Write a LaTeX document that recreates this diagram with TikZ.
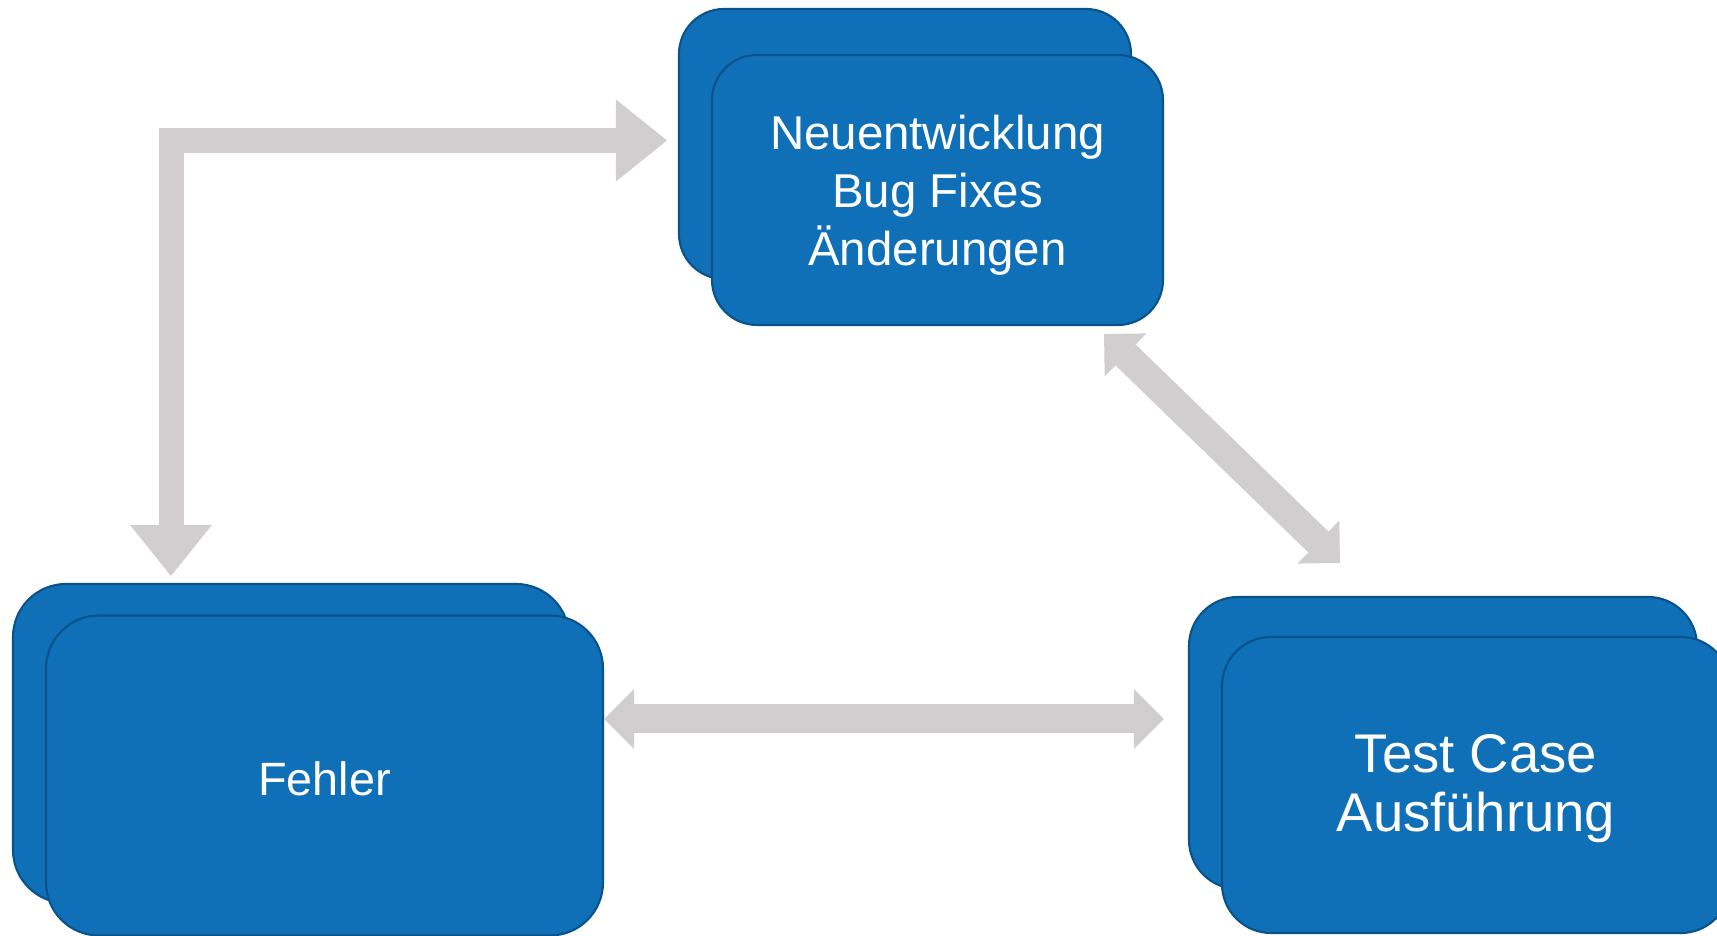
\documentclass[tikz,border=0pt]{standalone}
\usepackage{fontspec}
\setmainfont{Liberation Sans}
\usetikzlibrary{arrows.meta}
\definecolor{boxblue}{RGB}{15,112,183}
\definecolor{boxline}{RGB}{10,82,140}
\definecolor{arrowgray}{RGB}{208,206,206}
\begin{document}
\begin{tikzpicture}[
    box/.style={rectangle, draw=boxline, fill=boxblue, line width=0.6pt},
    boxtext/.style={text=white, align=center},
    bentarrow/.style={draw=arrowgray, line width=0.25cm, line join=miter,
      {Triangle[width=0.82cm, length=0.51cm, line width=0pt]}-{Triangle[width=0.82cm, length=0.51cm, line width=0pt]}},
    dblarrow/.style={draw=arrowgray, line width=0.29cm,
      {Triangle[width=0.60cm, length=0.30cm, line width=0pt]}-{Triangle[width=0.60cm, length=0.30cm, line width=0pt]}}
  ]
  \useasboundingbox (0,0) rectangle (17.17,9.36);

  % Neuentwicklung
  \node[box, minimum width=4.52cm, minimum height=2.70cm, rounded corners=0.45cm] (neuback) at (9.05,7.92) {};
  \node[box, minimum width=4.51cm, minimum height=2.70cm, rounded corners=0.45cm] (neu) at (9.375,7.46) {};
  \node[boxtext, font={\fontsize{13.5pt}{16.5pt}\selectfont}] (neutext) at ([yshift=-0.055cm]neu.center) {Neuentwicklung\\Bug Fixes\\Änderungen};

  % Fehler
  \node[box, minimum width=5.56cm, minimum height=3.19cm, rounded corners=0.53cm] (fehlerback) at (2.91,1.925) {};
  \node[box, minimum width=5.57cm, minimum height=3.20cm, rounded corners=0.53cm] (fehler) at (3.245,1.605) {};
  \node[boxtext, font={\fontsize{13.3pt}{16pt}\selectfont}] (fehlertext) at ([yshift=-0.035cm]fehler.center) {Fehler};

  % Test Case Ausfuehrung
  \node[box, minimum width=5.08cm, minimum height=2.92cm, rounded corners=0.49cm] (testback) at (14.43,1.93) {};
  \node[box, minimum width=5.08cm, minimum height=2.96cm, rounded corners=0.49cm] (test) at (14.76,1.51) {};
  \node[boxtext, font={\fontsize{15.5pt}{16.8pt}\selectfont}] (testtext) at ([yshift=-0.035cm]test.center) {Test Case\\Ausführung};

  % Pfeile
  \draw[bentarrow] ([xshift=-1.2cm, yshift=0.07cm]fehlerback.north) |- ([xshift=-0.11cm, yshift=0.035cm]neuback.west);
  \draw[dblarrow] ([yshift=0.565cm]fehler.east) -- ([xshift=-0.24cm, yshift=0.24cm]testback.west);
  \draw[dblarrow] ([xshift=1.52cm, yshift=0.33cm]testback.north west) -- ([xshift=-0.60cm, yshift=-0.08cm]neu.south east);
\end{tikzpicture}
\end{document}
